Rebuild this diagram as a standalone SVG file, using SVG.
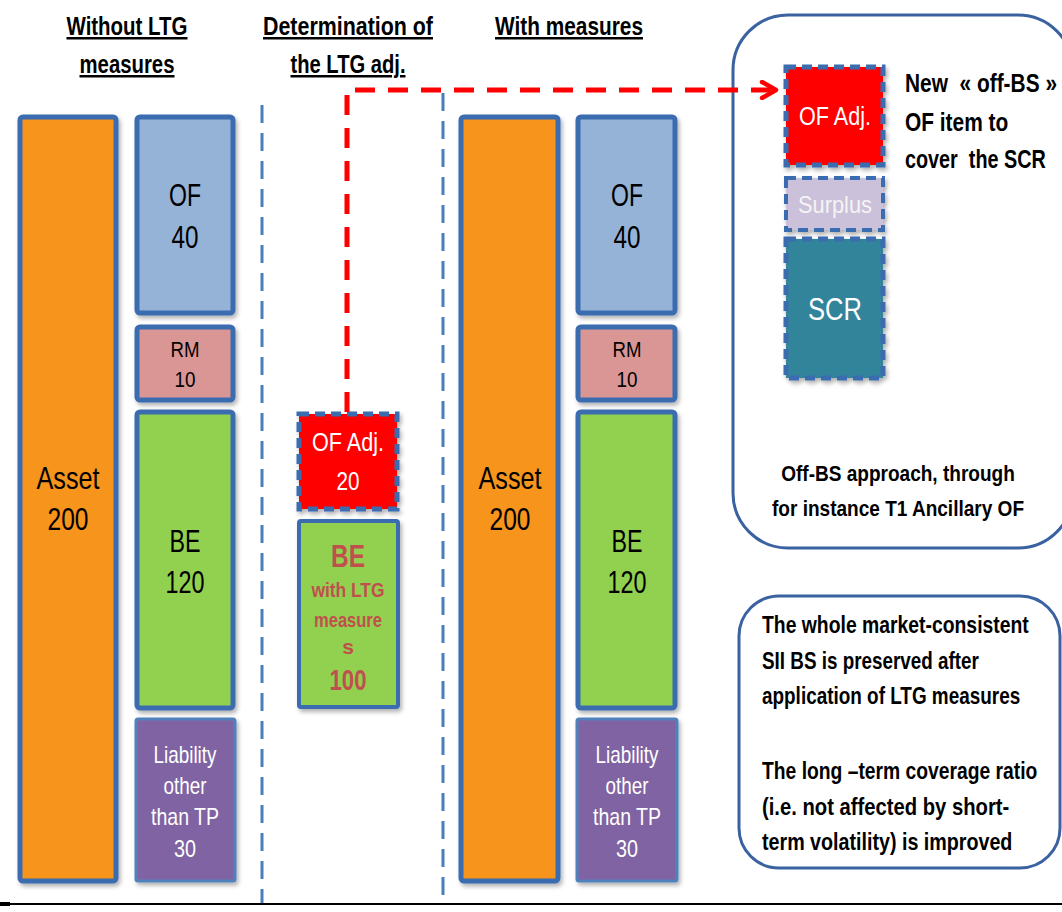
<svg xmlns="http://www.w3.org/2000/svg" width="1062" height="912" viewBox="0 0 1062 912">
<defs>
<filter id="sh" x="-10%" y="-10%" width="130%" height="130%">
<feDropShadow dx="2" dy="3" stdDeviation="2" flood-color="#000" flood-opacity="0.3"/>
</filter>
<marker id="chev" viewBox="0 0 20 20" refX="17" refY="10" markerWidth="20" markerHeight="20" markerUnits="userSpaceOnUse" orient="auto">
<path d="M3 2 L17 10 L3 18" fill="none" stroke="#ff0000" stroke-width="4.5" stroke-linecap="round" stroke-linejoin="round"/>
</marker>
</defs>
<style>
.bx{stroke:#3b6cb0;stroke-width:5;filter:url(#sh)}
.thin{stroke:#4f81bd;stroke-width:3;filter:url(#sh)}
.dsh{stroke:#3b6cb0;stroke-width:5;stroke-dasharray:10 6;filter:url(#sh)}
.lbl{font-family:"Liberation Sans",Arial,sans-serif;text-anchor:middle}
.k{fill:#000}
.w{fill:#fff}
.hd{font-family:"Liberation Sans",Arial,sans-serif;font-weight:bold;font-size:25px;text-anchor:middle;text-decoration:underline;fill:#000}
.bt{font-family:"Liberation Sans",Arial,sans-serif;font-weight:bold;fill:#000}
.sep{stroke:#4a7ebb;stroke-width:3;stroke-dasharray:18 10;fill:none}
.red{stroke:#ff0000;stroke-width:5;stroke-dasharray:20 13;fill:none}
.panel{fill:#fff;stroke:#3a62a0;stroke-width:3}
</style>

<g id="headers">
<text class="hd" x="127" y="35" textLength="121" lengthAdjust="spacingAndGlyphs">Without LTG</text>
<text class="hd" x="127" y="73" textLength="95" lengthAdjust="spacingAndGlyphs">measures</text>
<text class="hd" x="348" y="35" textLength="170" lengthAdjust="spacingAndGlyphs">Determination of</text>
<text class="hd" x="348" y="73" textLength="115" lengthAdjust="spacingAndGlyphs">the LTG adj.</text>
<text class="hd" x="569" y="35" textLength="148" lengthAdjust="spacingAndGlyphs">With measures</text>
</g>

<g id="separators">
<line class="sep" x1="262" y1="105" x2="262" y2="905"/>
<line class="sep" x1="443" y1="93" x2="443" y2="905"/>
<line x1="0" y1="904" x2="1062" y2="904" stroke="#000" stroke-width="2"/>
<rect x="0" y="902" width="10" height="4" fill="#000"/>
</g>

<g id="panel-offbs">
<rect class="panel" x="733" y="15" width="340" height="533" rx="55"/>
</g>
<g id="panel-notes">
<rect class="panel" x="739" y="596" width="321" height="272" rx="40"/>
</g>

<g id="asset-left">
<rect class="bx" x="20" y="117" width="96" height="764" rx="3" fill="#f7941e"/>
<text class="lbl k" x="68" y="489" font-size="32" textLength="63" lengthAdjust="spacingAndGlyphs">Asset</text>
<text class="lbl k" x="68" y="530" font-size="32" textLength="41" lengthAdjust="spacingAndGlyphs">200</text>
</g>
<g id="of-left">
<rect class="bx" x="137" y="117" width="96" height="196" rx="3" fill="#95b3d7"/>
<text class="lbl k" x="185" y="206" font-size="32" textLength="32" lengthAdjust="spacingAndGlyphs">OF</text>
<text class="lbl k" x="185" y="248" font-size="32" textLength="27" lengthAdjust="spacingAndGlyphs">40</text>
</g>
<g id="rm-left">
<rect class="bx" x="137" y="327" width="96" height="73" rx="3" fill="#d99694"/>
<text class="lbl k" x="185" y="357" font-size="22" textLength="29" lengthAdjust="spacingAndGlyphs">RM</text>
<text class="lbl k" x="185" y="387" font-size="22" textLength="21" lengthAdjust="spacingAndGlyphs">10</text>
</g>
<g id="be-left">
<rect class="bx" x="137" y="412" width="96" height="296" rx="3" fill="#92d050"/>
<text class="lbl k" x="185" y="552" font-size="32" textLength="31" lengthAdjust="spacingAndGlyphs">BE</text>
<text class="lbl k" x="185" y="593" font-size="32" textLength="39" lengthAdjust="spacingAndGlyphs">120</text>
</g>
<g id="liab-left">
<rect class="thin" x="136" y="719" width="99" height="162" rx="2" fill="#8064a2"/>
<text class="lbl w" x="185" y="763" font-size="24" textLength="63" lengthAdjust="spacingAndGlyphs">Liability</text>
<text class="lbl w" x="185" y="794" font-size="24" textLength="43" lengthAdjust="spacingAndGlyphs">other</text>
<text class="lbl w" x="185" y="825" font-size="24" textLength="68" lengthAdjust="spacingAndGlyphs">than TP</text>
<text class="lbl w" x="185" y="857" font-size="24" textLength="22" lengthAdjust="spacingAndGlyphs">30</text>
</g>

<g id="ofadj-mid">
<rect class="dsh" x="299" y="414" width="98" height="95" fill="#ff0000"/>
<text class="lbl w" x="348" y="451" font-size="25" textLength="72" lengthAdjust="spacingAndGlyphs">OF Adj.</text>
<text class="lbl w" x="348" y="490" font-size="25" textLength="23" lengthAdjust="spacingAndGlyphs">20</text>
</g>
<g id="be-ltg">
<rect x="299" y="521" width="99" height="186" rx="2" fill="#92d050" style="stroke:#3b6cb0;stroke-width:4;filter:url(#sh)"/>
<text class="lbl" x="348" y="567" font-size="31" font-weight="bold" fill="#c0504d" textLength="34" lengthAdjust="spacingAndGlyphs">BE</text>
<text class="lbl" x="348" y="597" font-size="21" font-weight="bold" fill="#c0504d" textLength="73" lengthAdjust="spacingAndGlyphs">with LTG</text>
<text class="lbl" x="348" y="627" font-size="21" font-weight="bold" fill="#c0504d" textLength="68" lengthAdjust="spacingAndGlyphs">measure</text>
<text class="lbl" x="348" y="654" font-size="21" font-weight="bold" fill="#c0504d">s</text>
<text class="lbl" x="348" y="690" font-size="29" font-weight="bold" fill="#c0504d" textLength="37" lengthAdjust="spacingAndGlyphs">100</text>
</g>

<g id="asset-right">
<rect class="bx" x="461" y="117" width="97" height="764" rx="3" fill="#f7941e"/>
<text class="lbl k" x="510" y="489" font-size="32" textLength="63" lengthAdjust="spacingAndGlyphs">Asset</text>
<text class="lbl k" x="510" y="530" font-size="32" textLength="41" lengthAdjust="spacingAndGlyphs">200</text>
</g>
<g id="of-right">
<rect class="bx" x="578" y="117" width="97" height="196" rx="3" fill="#95b3d7"/>
<text class="lbl k" x="627" y="206" font-size="32" textLength="32" lengthAdjust="spacingAndGlyphs">OF</text>
<text class="lbl k" x="627" y="248" font-size="32" textLength="27" lengthAdjust="spacingAndGlyphs">40</text>
</g>
<g id="rm-right">
<rect class="bx" x="578" y="327" width="97" height="73" rx="3" fill="#d99694"/>
<text class="lbl k" x="627" y="357" font-size="22" textLength="29" lengthAdjust="spacingAndGlyphs">RM</text>
<text class="lbl k" x="627" y="387" font-size="22" textLength="21" lengthAdjust="spacingAndGlyphs">10</text>
</g>
<g id="be-right">
<rect class="bx" x="578" y="412" width="97" height="296" rx="3" fill="#92d050"/>
<text class="lbl k" x="627" y="552" font-size="32" textLength="31" lengthAdjust="spacingAndGlyphs">BE</text>
<text class="lbl k" x="627" y="593" font-size="32" textLength="39" lengthAdjust="spacingAndGlyphs">120</text>
</g>
<g id="liab-right">
<rect class="thin" x="577" y="719" width="100" height="162" rx="2" fill="#8064a2"/>
<text class="lbl w" x="627" y="763" font-size="24" textLength="63" lengthAdjust="spacingAndGlyphs">Liability</text>
<text class="lbl w" x="627" y="794" font-size="24" textLength="43" lengthAdjust="spacingAndGlyphs">other</text>
<text class="lbl w" x="627" y="825" font-size="24" textLength="68" lengthAdjust="spacingAndGlyphs">than TP</text>
<text class="lbl w" x="627" y="857" font-size="24" textLength="22" lengthAdjust="spacingAndGlyphs">30</text>
</g>

<g id="ofadj-right">
<rect class="dsh" x="786" y="67" width="97" height="98" fill="#ff0000"/>
<text class="lbl w" x="835" y="125" font-size="26" textLength="72" lengthAdjust="spacingAndGlyphs">OF Adj.</text>
</g>
<g id="surplus">
<rect class="dsh" x="786" y="178" width="97" height="52" fill="#ccc1da" style="stroke-width:4"/>
<text class="lbl" x="835" y="213" font-size="24" fill="#f4f4f4" textLength="74" lengthAdjust="spacingAndGlyphs">Surplus</text>
</g>
<g id="scr">
<rect class="dsh" x="786" y="239" width="97" height="139" fill="#31849b"/>
<text class="lbl w" x="835" y="320" font-size="32" textLength="54" lengthAdjust="spacingAndGlyphs">SCR</text>
</g>

<g id="offbs-text">
<text class="bt" transform="translate(905,92) scale(0.8,1)" x="0" y="0" font-size="25" textLength="190" lengthAdjust="spacingAndGlyphs">New&#160; « off-BS »</text>
<text class="bt" transform="translate(905,131) scale(0.8,1)" x="0" y="0" font-size="25" textLength="129" lengthAdjust="spacingAndGlyphs">OF item to</text>
<text class="bt" transform="translate(905,168) scale(0.8,1)" x="0" y="0" font-size="25" textLength="176" lengthAdjust="spacingAndGlyphs">cover&#160; the SCR</text>
<text class="bt" transform="translate(898,481) scale(0.8,1)" x="0" y="0" font-size="22" text-anchor="middle" textLength="292" lengthAdjust="spacingAndGlyphs">Off-BS approach, through</text>
<text class="bt" transform="translate(898,516) scale(0.8,1)" x="0" y="0" font-size="22" text-anchor="middle" textLength="315" lengthAdjust="spacingAndGlyphs">for instance T1 Ancillary OF</text>
</g>

<g id="notes-text">
<text class="bt" transform="translate(762,633) scale(0.78,1)" x="0" y="0" font-size="23" textLength="342" lengthAdjust="spacingAndGlyphs">The whole market-consistent</text>
<text class="bt" transform="translate(762,669) scale(0.78,1)" x="0" y="0" font-size="23" textLength="278" lengthAdjust="spacingAndGlyphs">SII BS is preserved after</text>
<text class="bt" transform="translate(762,704) scale(0.78,1)" x="0" y="0" font-size="23" textLength="331" lengthAdjust="spacingAndGlyphs">application of LTG measures</text>
<text class="bt" transform="translate(762,779) scale(0.78,1)" x="0" y="0" font-size="23" textLength="353" lengthAdjust="spacingAndGlyphs">The long –term coverage ratio</text>
<text class="bt" transform="translate(762,815) scale(0.78,1)" x="0" y="0" font-size="23" textLength="317" lengthAdjust="spacingAndGlyphs">(i.e. not affected by short-</text>
<text class="bt" transform="translate(762,850) scale(0.78,1)" x="0" y="0" font-size="23" textLength="321" lengthAdjust="spacingAndGlyphs">term volatility) is improved</text>
</g>

<g id="connectors">
<path class="red" d="M347 412 L347 90 L776 90" marker-end="url(#chev)"/>
</g>
</svg>
